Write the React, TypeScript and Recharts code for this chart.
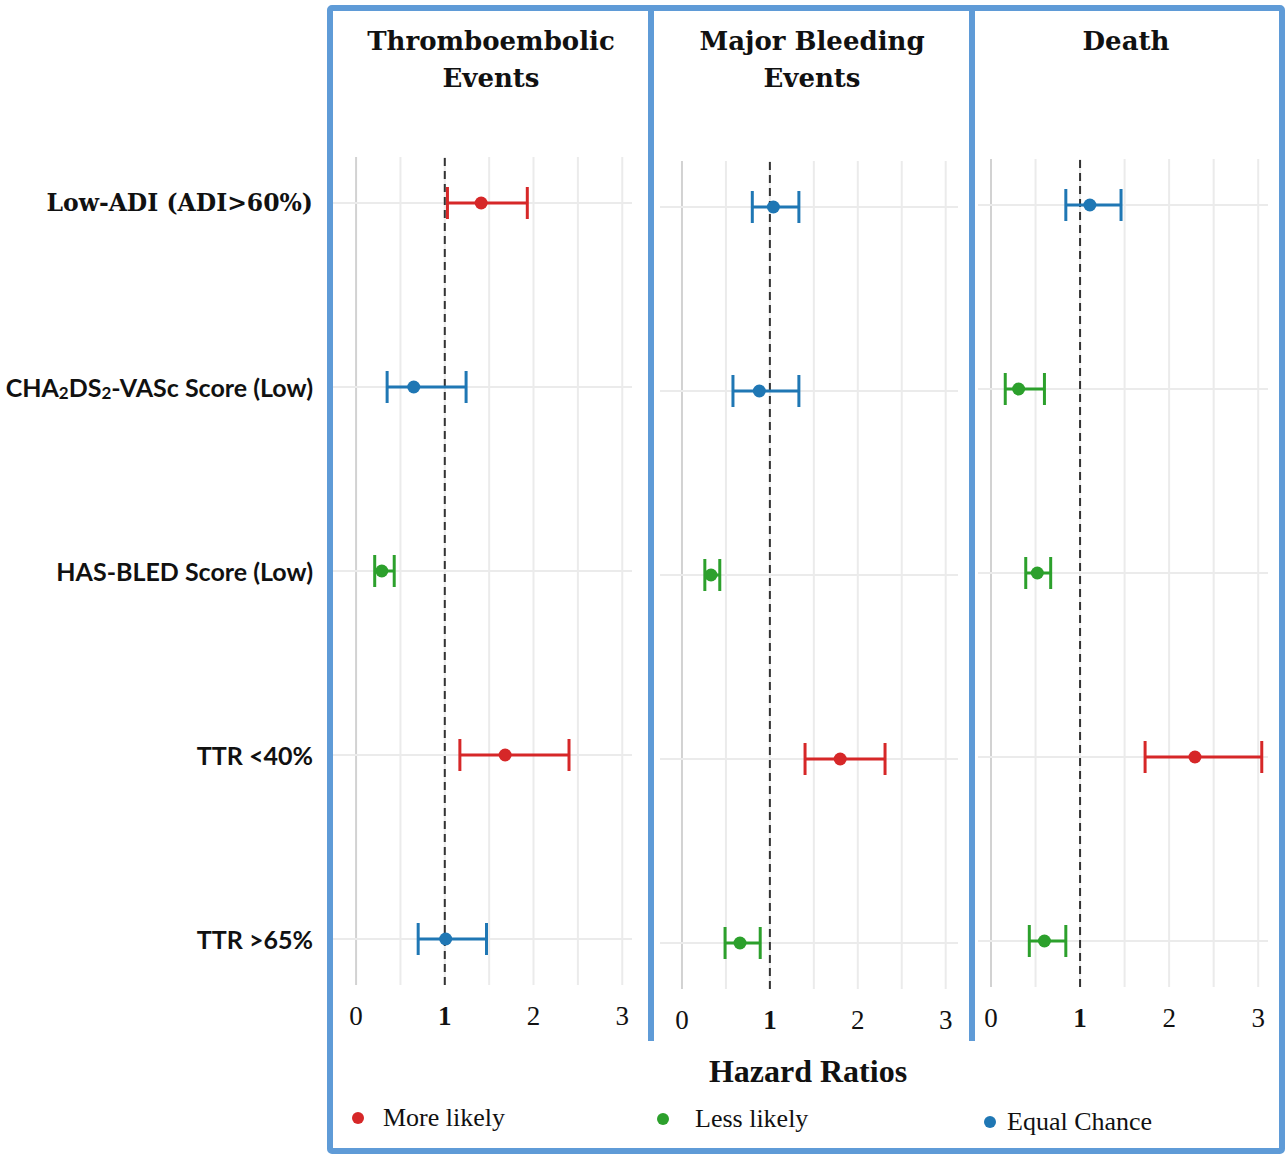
import React from "react";
import {
  ScatterChart,
  Scatter,
  XAxis,
  YAxis,
  ErrorBar,
  ReferenceLine,
} from "recharts";

// rows (top to bottom) and panel titles
const ROWS = [
  "Low-ADI (ADI>60%)",
  "CHA₂DS₂-VASc Score (Low)",
  "HAS-BLED Score (Low)",
  "TTR <40%",
  "TTR >65%",
];
const TITLES = ["Thromboembolic\nEvents", "Major Bleeding\nEvents", "Death"];

// hazard ratios with 95% CI
const thromboHR = [1.41, 0.65, 0.29, 1.68, 1.01];
const thromboLow = [1.03, 0.35, 0.21, 1.17, 0.7];
const thromboHigh = [1.93, 1.24, 0.43, 2.4, 1.47];

const bleedHR = [1.04, 0.88, 0.33, 1.8, 0.66];
const bleedLow = [0.8, 0.58, 0.26, 1.4, 0.49];
const bleedHigh = [1.33, 1.33, 0.43, 2.31, 0.89];

const deathHR = [1.11, 0.31, 0.52, 2.29, 0.6];
const deathLow = [0.84, 0.16, 0.39, 1.73, 0.43];
const deathHigh = [1.46, 0.6, 0.67, 3.04, 0.84];

const GRID_X = [0, 0.5, 1, 1.5, 2, 2.5, 3];
const ROW_TICKS = [1, 2, 3, 4, 5];

const EFFECTS = ["More likely", "Less likely", "Equal Chance"];
const EFFECT_COLORS = ["#d62728", "#2ca02c", "#1f77b4"];

const FRAME = "#5f9bd7";
const PLOT_H = 828;
const AXIS_H = 50;

const makeRows = (hr: number[], lo: number[], hi: number[]) =>
  hr.map((v, i) => ({
    row: i + 1,
    hr: v,
    err: [+(v - lo[i]).toFixed(3), +(hi[i] - v).toFixed(3)],
    effect: lo[i] > 1 ? 0 : hi[i] < 1 ? 1 : 2,
  }));

const panels = [
  { data: makeRows(thromboHR, thromboLow, thromboHigh), left: 0, top: 157, width: 632, yw: 333, domain: [-0.26, 3.11] },
  { data: makeRows(bleedHR, bleedLow, bleedHigh), left: 660, top: 161, width: 298, yw: 0, domain: [-0.25, 3.14] },
  { data: makeRows(deathHR, deathLow, deathHigh), left: 978, top: 159, width: 290, yw: 0, domain: [-0.146, 3.11] },
];

const XTick = (props: any) => {
  const { x, y, payload } = props;
  if (!Number.isInteger(payload.value)) return <g />;
  return (
    <text
      x={x}
      y={y + 40}
      textAnchor="middle"
      fontFamily="'Liberation Serif', serif"
      fontSize={27}
      fontWeight={payload.value === 1 ? 700 : 400}
      fill="#111"
    >
      {payload.value}
    </text>
  );
};

const RowTick = (props: any) => {
  const { y, payload } = props;
  const label = ROWS[payload.value - 1];
  if (!label) return <g />;
  const serif = payload.value === 1;
  const parts = label.split("₂");
  return (
    <text
      x={313}
      y={y}
      textAnchor="end"
      dominantBaseline="central"
      fontFamily={serif ? "'DejaVu Serif', serif" : "Lato, sans-serif"}
      fontSize={serif ? 23.5 : 25}
      fontWeight={700}
      fill="#111"
    >
      {parts.map((p, i) => (
        <React.Fragment key={i}>
          {i > 0 && <tspan dy={-5}>{p}</tspan>}
          {i === 0 && p}
          {i < parts.length - 1 && (
            <tspan dy={5} fontSize={17}>
              2
            </tspan>
          )}
        </React.Fragment>
      ))}
    </text>
  );
};

const Panel = ({ data, left, top, width, yw, domain }: any) => (
  <div style={{ position: "absolute", left, top }}>
    <ScatterChart
      width={width}
      height={PLOT_H + AXIS_H}
      margin={{ top: 0, right: 0, bottom: 0, left: 0 }}
    >
      <XAxis
        type="number"
        dataKey="hr"
        domain={domain}
        allowDataOverflow
        ticks={GRID_X}
        interval={0}
        axisLine={false}
        tickLine={false}
        tickSize={0}
        tickMargin={0}
        height={AXIS_H}
        tick={<XTick />}
      />
      <YAxis
        type="number"
        dataKey="row"
        domain={[0.75, 5.25]}
        reversed
        ticks={ROW_TICKS}
        interval={0}
        width={yw}
        axisLine={false}
        tickLine={false}
        tick={yw > 0 ? <RowTick /> : false}
      />
      {GRID_X.map((g) => (
        <ReferenceLine key={`v${g}`} x={g} stroke={g === 0 ? "#d2d2d2" : "#ebebeb"} strokeWidth={2} />
      ))}
      {ROW_TICKS.map((r) => (
        <ReferenceLine key={`h${r}`} y={r} stroke="#ebebeb" strokeWidth={2} />
      ))}
      <ReferenceLine x={1} stroke="#333" strokeWidth={2} strokeDasharray="8 5" />
      {EFFECTS.map((name, k) => (
        <Scatter
          key={name}
          name={name}
          data={data.filter((d: any) => d.effect === k)}
          fill={EFFECT_COLORS[k]}
          isAnimationActive={false}
          shape={(p: any) => <circle cx={p.cx} cy={p.cy} r={6.5} fill={EFFECT_COLORS[k]} />}
        >
          <ErrorBar
            dataKey="err"
            direction="x"
            width={16}
            strokeWidth={3}
            stroke={EFFECT_COLORS[k]}
            isAnimationActive={false}
          />
        </Scatter>
      ))}
    </ScatterChart>
  </div>
);

const TITLE_CENTERS = [491, 812, 1126];
const LEGEND_POS = [
  { dot: 358, text: 383, y: 1118 },
  { dot: 663, text: 695, y: 1119 },
  { dot: 990, text: 1007, y: 1122 },
];

export default function App() {
  return (
    <div
      style={{
        position: "absolute",
        left: 0,
        top: 0,
        width: 1287,
        height: 1154,
        background: "#fff",
        overflow: "hidden",
      }}
    >
      {/* blue frames */}
      <div
        style={{
          position: "absolute",
          left: 327,
          top: 5,
          width: 958,
          height: 1149,
          boxSizing: "border-box",
          border: `6px solid ${FRAME}`,
          borderRadius: 5,
        }}
      />
      {[648, 969].map((x) => (
        <div
          key={x}
          style={{ position: "absolute", left: x, top: 5, width: 6, height: 1036, background: FRAME }}
        />
      ))}

      {TITLES.map((t, i) => (
        <div
          key={t}
          style={{
            position: "absolute",
            left: TITLE_CENTERS[i] - 160,
            width: 320,
            top: 23,
            textAlign: "center",
            whiteSpace: "pre-line",
            fontFamily: "'DejaVu Serif', serif",
            fontWeight: 700,
            fontSize: 26,
            lineHeight: "37px",
            color: "#111",
          }}
        >
          {t}
        </div>
      ))}

      {panels.map((p, i) => (
        <Panel key={i} {...p} />
      ))}

      <div
        style={{
          position: "absolute",
          left: 608,
          width: 400,
          top: 1052,
          textAlign: "center",
          fontFamily: "'Liberation Serif', serif",
          fontWeight: 700,
          fontSize: 32,
          lineHeight: "38px",
          color: "#111",
        }}
      >
        Hazard Ratios
      </div>

      {EFFECTS.map((name, k) => (
        <React.Fragment key={name}>
          <div
            style={{
              position: "absolute",
              left: LEGEND_POS[k].dot - 6,
              top: LEGEND_POS[k].y - 6,
              width: 12,
              height: 12,
              borderRadius: 6,
              background: EFFECT_COLORS[k],
            }}
          />
          <div
            style={{
              position: "absolute",
              left: LEGEND_POS[k].text,
              top: LEGEND_POS[k].y - 17,
              fontFamily: "'Liberation Serif', serif",
              fontSize: 26,
              lineHeight: "34px",
              color: "#111",
              whiteSpace: "nowrap",
            }}
          >
            {name}
          </div>
        </React.Fragment>
      ))}
    </div>
  );
}
